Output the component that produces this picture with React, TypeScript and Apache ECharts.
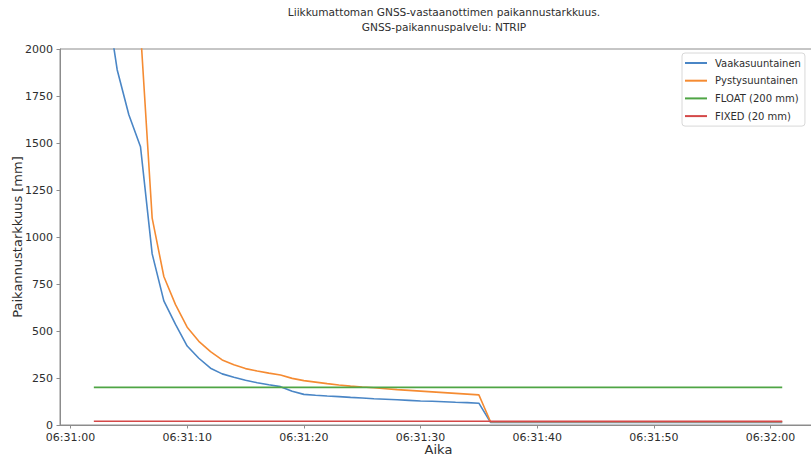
import React, { useEffect, useRef } from "react";
import * as echarts from "echarts";

// seconds after 06:31:00
const seconds = [
  2, 3, 4, 5, 6, 7, 8, 9, 10, 11, 12, 13, 14, 15, 16, 17, 18, 19, 20, 21, 22,
  23, 24, 25, 26, 27, 28, 29, 30, 31, 32, 33, 34, 35, 36, 61,
];
const horizontal = [
  3200, 2300, 1890, 1650, 1480, 910, 660, 535, 420, 355, 302, 272, 254, 238,
  225, 214, 204, 180, 163, 158, 154, 151, 147, 144, 140, 137, 134, 131, 128,
  126, 124, 121, 119, 116, 14, 14,
];
const vertical = [
  6000, 5000, 4000, 3000, 2100, 1100, 790, 640, 520, 445, 390, 346, 320, 300,
  287, 276, 266, 248, 236, 228, 220, 213, 207, 202, 198, 193, 188, 184, 180,
  176, 172, 168, 164, 160, 17, 17,
];
const limitSeconds = [2, 61];
const floatLimit = [200, 200];
const fixedLimit = [20, 20];

const xTickValues = [0, 10, 20, 30, 40, 50, 60];
const xTickLabels = [
  "06:31:00",
  "06:31:10",
  "06:31:20",
  "06:31:30",
  "06:31:40",
  "06:31:50",
  "06:32:00",
];

const seriesNames = [
  "Vaakasuuntainen",
  "Pystysuuntainen",
  "FLOAT (200 mm)",
  "FIXED (20 mm)",
];
const colors = ["#4a86c6", "#f58b32", "#4fa545", "#d44848"];

const titleLines = [
  "Liikkumattoman GNSS-vastaanottimen paikannustarkkuus.",
  "GNSS-paikannuspalvelu: NTRIP",
];

const FONT = "DejaVu Sans";
const AXIS_COLOR = "#8c8c8c";
const TEXT_COLOR = "#2e2e2e";

function pairs(xs: number[], ys: number[]) {
  return xs.map((x, i) => [x, ys[i]]);
}

export default function App() {
  const ref = useRef<HTMLDivElement>(null);

  useEffect(() => {
    document.body.style.margin = "0";
    if (!ref.current) return;
    const chart = echarts.init(ref.current, undefined, { renderer: "svg" });

    const lineSeries = (name: string, data: number[][], color: string) => ({
      name,
      type: "line",
      data,
      showSymbol: false,
      symbol: "none",
      clip: true,
      lineStyle: { color, width: 1.6 },
      itemStyle: { color },
    });

    chart.setOption({
      animation: false,
      textStyle: { fontFamily: FONT },
      grid: {
        left: 60,
        top: 49,
        right: -6,
        bottom: 31,
        outerBoundsMode: "none",
        containLabel: false,
        show: true,
        borderColor: AXIS_COLOR,
        borderWidth: 1,
        backgroundColor: "transparent",
      },
      graphic: [
        {
          type: "text",
          x: 444,
          y: 17,
          style: {
            text: titleLines[0],
            fontFamily: FONT,
            fontSize: 10.6,
            fill: TEXT_COLOR,
            textAlign: "center",
            textVerticalAlign: "bottom",
          },
        },
        {
          type: "text",
          x: 444,
          y: 32,
          style: {
            text: titleLines[1],
            fontFamily: FONT,
            fontSize: 10.6,
            fill: TEXT_COLOR,
            textAlign: "center",
            textVerticalAlign: "bottom",
          },
        },
      ],
      legend: {
        data: seriesNames,
        orient: "vertical",
        left: 682,
        top: 53,
        padding: [3, 4, 3, 3],
        itemWidth: 22,
        itemHeight: 2,
        itemGap: 3.7,
        icon: "rect",
        backgroundColor: "#ffffff",
        borderColor: "#d8d8d8",
        borderWidth: 1,
        borderRadius: 3,
        textStyle: {
          fontFamily: FONT,
          fontSize: 10,
          color: TEXT_COLOR,
          lineHeight: 14,
          padding: [0, 0, 0, 3],
        },
      },
      xAxis: {
        type: "value",
        min: -0.9,
        max: 63.98,
        name: "Aika",
        nameLocation: "middle",
        nameGap: 18,
        nameMoveOverlap: false,
        nameTextStyle: { fontFamily: FONT, fontSize: 13, color: TEXT_COLOR },
        axisLine: {
          show: true,
          onZero: false,
          lineStyle: { color: AXIS_COLOR, width: 1 },
        },
        axisTick: {
          show: true,
          customValues: xTickValues,
          length: 3.5,
          lineStyle: { color: AXIS_COLOR },
        },
        axisLabel: {
          customValues: xTickValues,
          margin: 6,
          fontFamily: FONT,
          fontSize: 11,
          lineHeight: 12,
          color: TEXT_COLOR,
          formatter: (v: number) => {
            const i = xTickValues.indexOf(Math.round(v));
            return i >= 0 ? xTickLabels[i] : "";
          },
        },
        splitLine: { show: false },
      },
      yAxis: {
        type: "value",
        min: 0,
        max: 2000,
        interval: 250,
        name: "Paikannustarkkuus [mm]",
        nameLocation: "middle",
        nameRotate: 90,
        nameGap: 36,
        nameMoveOverlap: false,
        nameTextStyle: { fontFamily: FONT, fontSize: 13, color: TEXT_COLOR },
        axisLine: {
          show: true,
          onZero: false,
          lineStyle: { color: AXIS_COLOR, width: 1 },
        },
        axisTick: { show: true, length: 3.5, lineStyle: { color: AXIS_COLOR } },
        axisLabel: {
          margin: 7,
          fontFamily: FONT,
          fontSize: 11,
          lineHeight: 11,
          color: TEXT_COLOR,
          formatter: (v: number) => String(v),
        },
        splitLine: { show: false },
      },
      series: [
        lineSeries(seriesNames[0], pairs(seconds, horizontal), colors[0]),
        lineSeries(seriesNames[1], pairs(seconds, vertical), colors[1]),
        lineSeries(seriesNames[2], pairs(limitSeconds, floatLimit), colors[2]),
        lineSeries(seriesNames[3], pairs(limitSeconds, fixedLimit), colors[3]),
      ],
    });

    return () => chart.dispose();
  }, []);

  return <div ref={ref} style={{ width: 811, height: 456 }} />;
}
